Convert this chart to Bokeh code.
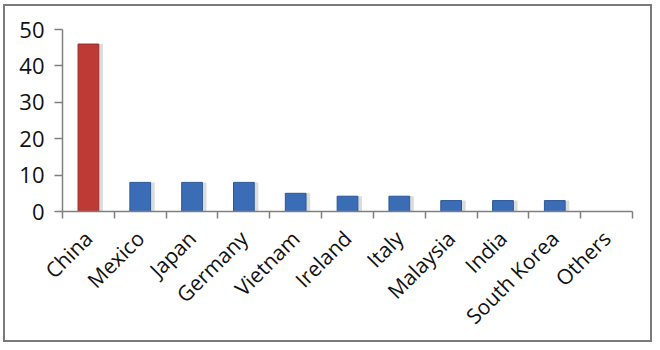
from bokeh.plotting import figure
from bokeh.models import Range1d, FixedTicker, ColumnDataSource
from bokeh.embed import file_html
from bokeh.resources import INLINE
import math

countries = ["China", "Mexico", "Japan", "Germany", "Vietnam", "Ireland",
             "Italy", "Malaysia", "India", "South Korea", "Others"]
shares = [46, 8, 8, 8, 5, 4.2, 4.2, 3, 3, 3, 0]
y_ticks = [0, 10, 20, 30, 40, 50]

positions = [i + 0.5 for i in range(len(countries))]
fills = ["#BE3A35" if i == 0 else "#3A6DB6" for i in range(len(countries))]
lines = ["#9C2B28" if i == 0 else "#2C5797" for i in range(len(countries))]

src = ColumnDataSource(dict(x=positions, top=shares, fill=fills, line=lines,
                            sx=[v + 0.07 for v in positions]))

p = figure(width=649, height=338, output_backend="svg", toolbar_location=None,
           x_range=Range1d(0, len(countries)), y_range=Range1d(0, 50),
           min_border_left=57, min_border_right=22, min_border_top=23,
           min_border_bottom=133)
p.styles = {"border": "2px solid #7a7a7a", "margin-left": "3px", "margin-top": "4px"}
p.outline_line_color = None
p.xgrid.visible = False
p.ygrid.visible = False

# soft shadow
p.vbar(x="sx", top="top", width=0.42, bottom=0, source=src,
       fill_color="#9a9a9a", fill_alpha=0.35, line_color=None)
p.vbar(x="x", top="top", width=0.4, bottom=0, source=src,
       fill_color="fill", line_color="line", line_width=1)

font = "Open Sans"
p.yaxis.ticker = FixedTicker(ticks=y_ticks)
p.yaxis.minor_tick_line_color = None
p.yaxis.major_tick_out = 8
p.yaxis.major_tick_in = 0
p.yaxis.major_label_standoff = 10
p.yaxis.major_label_text_font = font
p.yaxis.major_label_text_font_size = "22px"
p.yaxis.major_label_text_color = "#111111"
p.yaxis.axis_line_color = "#7f7f7f"
p.yaxis.axis_line_width = 1.5
p.yaxis.major_tick_line_color = "#7f7f7f"
p.yaxis.major_tick_line_width = 1.5

p.xaxis.ticker = FixedTicker(ticks=positions, minor_ticks=list(range(len(countries) + 1)))
p.xaxis.major_label_overrides = {pos: c for pos, c in zip(positions, countries)}
p.xaxis.major_tick_line_color = None
p.xaxis.minor_tick_line_color = "#7f7f7f"
p.xaxis.minor_tick_line_width = 1.5
p.xaxis.minor_tick_out = 7
p.xaxis.minor_tick_in = 0
p.xaxis.axis_line_color = "#7f7f7f"
p.xaxis.axis_line_width = 1.5
p.xaxis.major_label_orientation = math.pi / 4
p.xaxis.major_label_standoff = 16
p.xaxis.major_label_text_font = font
p.xaxis.major_label_text_font_size = "21px"
p.xaxis.major_label_text_color = "#111111"

open("out.html", "w").write(file_html(p, INLINE))
